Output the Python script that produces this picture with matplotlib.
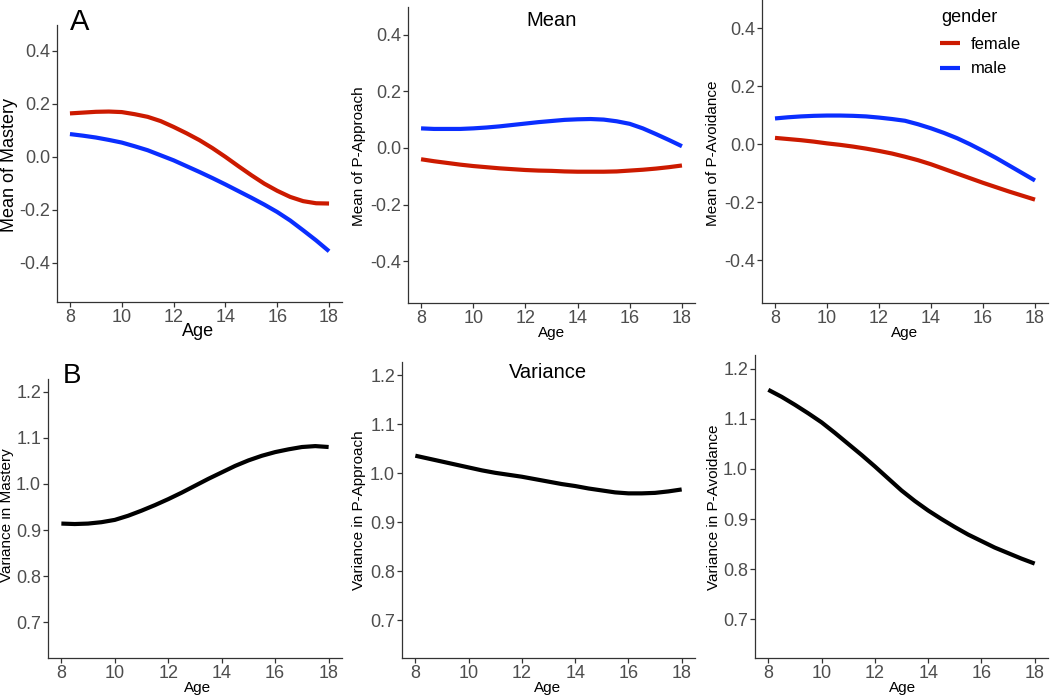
import matplotlib
matplotlib.use("Agg")
import matplotlib.pyplot as plt

plt.rcParams['font.family'] = ['Liberation Sans', 'DejaVu Sans']

# ---------------- data ----------------
ages = [8, 8.5, 9, 9.5, 10, 10.5, 11, 11.5, 12, 12.5, 13, 13.5, 14, 14.5, 15, 15.5,
        16, 16.5, 17, 17.5, 18]

mastery_female = [0.164, 0.167, 0.170, 0.171, 0.169, 0.161, 0.151, 0.135, 0.113, 0.089,
                  0.063, 0.033, 0.000, -0.035, -0.069, -0.101, -0.128, -0.151, -0.167,
                  -0.175, -0.176]
mastery_male = [0.086, 0.080, 0.073, 0.064, 0.054, 0.040, 0.025, 0.006, -0.013, -0.035,
                -0.057, -0.080, -0.104, -0.129, -0.154, -0.180, -0.208, -0.240, -0.277,
                -0.315, -0.356]
approach_female = [-0.040, -0.047, -0.053, -0.059, -0.064, -0.068, -0.072, -0.075, -0.078,
                   -0.080, -0.081, -0.083, -0.084, -0.084, -0.084, -0.083, -0.080, -0.077,
                   -0.073, -0.068, -0.062]
approach_male = [0.069, 0.067, 0.067, 0.067, 0.069, 0.072, 0.076, 0.081, 0.086, 0.091,
                 0.095, 0.099, 0.101, 0.102, 0.100, 0.094, 0.085, 0.069, 0.049, 0.028,
                 0.006]
avoid_female = [0.022, 0.018, 0.014, 0.009, 0.003, -0.002, -0.008, -0.015, -0.023, -0.032,
                -0.043, -0.055, -0.069, -0.085, -0.101, -0.117, -0.133, -0.148, -0.163,
                -0.177, -0.191]
avoid_male = [0.089, 0.093, 0.096, 0.098, 0.099, 0.099, 0.098, 0.096, 0.092, 0.087, 0.081,
              0.069, 0.055, 0.039, 0.021, 0.000, -0.023, -0.047, -0.073, -0.099, -0.125]

var_mastery = [0.914, 0.913, 0.914, 0.917, 0.922, 0.931, 0.942, 0.954, 0.967, 0.981, 0.996,
               1.011, 1.025, 1.039, 1.051, 1.061, 1.069, 1.075, 1.080, 1.082, 1.080]
var_approach = [1.036, 1.030, 1.024, 1.018, 1.012, 1.006, 1.001, 0.997, 0.993, 0.988, 0.983,
                0.978, 0.974, 0.969, 0.965, 0.961, 0.959, 0.959, 0.960, 0.963, 0.967]
var_avoid = [1.158, 1.144, 1.128, 1.111, 1.093, 1.072, 1.050, 1.028, 1.005, 0.981, 0.957,
             0.936, 0.917, 0.900, 0.884, 0.869, 0.856, 0.843, 0.832, 0.821, 0.811]

x_ticks = [8, 10, 12, 14, 16, 18]
mean_ticks = [-0.4, -0.2, 0.0, 0.2, 0.4]
mean_ticklabels = ["-0.4", "-0.2", "0.0", "0.2", "0.4"]
var_ticks = [0.7, 0.8, 0.9, 1.0, 1.1, 1.2]
var_ticklabels = ["0.7", "0.8", "0.9", "1.0", "1.1", "1.2"]

genders = ["female", "male"]
colors = {"female": "#CC1A00", "male": "#0A2EFF"}

# ---------------- figure ----------------
W, H = 1050, 697
fig = plt.figure(figsize=(W / 100, H / 100), dpi=100)


def add_axes_px(left, right, top, bottom):
    return fig.add_axes([left / W, 1 - bottom / H, (right - left) / W, (bottom - top) / H])


def style(ax, ylim, yticks, yticklabels):
    ax.set_xlim(7.5, 18.5)
    ax.set_ylim(*ylim)
    ax.set_xticks(x_ticks)
    ax.set_xticklabels([str(t) for t in x_ticks])
    ax.set_yticks(yticks)
    ax.set_yticklabels(yticklabels)
    for s in ["top", "right"]:
        ax.spines[s].set_visible(False)
    for s in ["left", "bottom"]:
        ax.spines[s].set_color("#333333")
        ax.spines[s].set_linewidth(0.9)
    ax.tick_params(axis="both", length=3.5, width=0.9, color="#333333",
                   labelcolor="#4D4D4D", labelsize=13, pad=1.5)


LW = 3.0
mean_ylim = (-0.5475, 0.4975)
var_ylim = (0.6225, 1.2275)

# panel positions in px: left, right, top, bottom
pos = [
    (57, 342, 25, 302),
    (408, 695, 7, 303),
    (762, 1048, 0, 303),
    (48, 342, 379, 658),
    (402, 695, 362, 658),
    (755, 1048, 355, 658),
]
axs = [add_axes_px(*p) for p in pos]

mean_data = [
    (mastery_female, mastery_male, "Mean of Mastery"),
    (approach_female, approach_male, "Mean of P-Approach"),
    (avoid_female, avoid_male, "Mean of P-Avoidance"),
]
var_data = [
    (var_mastery, "Variance in Mastery"),
    (var_approach, "Variance in P-Approach"),
    (var_avoid, "Variance in P-Avoidance"),
]

handles = []
for i, (fem, mal, lab) in enumerate(mean_data):
    ax = axs[i]
    lf, = ax.plot(ages, fem, color=colors["female"], lw=LW, solid_capstyle="butt",
                  solid_joinstyle="round", label="female")
    lm, = ax.plot(ages, mal, color=colors["male"], lw=LW, solid_capstyle="butt",
                  solid_joinstyle="round", label="male")
    if i == 2:
        handles = [lf, lm]
    style(ax, mean_ylim, mean_ticks, mean_ticklabels)

for i, (vals, lab) in enumerate(var_data):
    ax = axs[3 + i]
    ax.plot(ages, vals, color="black", lw=LW, solid_capstyle="butt", solid_joinstyle="round")
    style(ax, var_ylim, var_ticks, var_ticklabels)

# y labels (right edge px, center y px, fontsize)
ylab_info = [
    ("Mean of Mastery", 18, 165, 13),
    ("Mean of P-Approach", 366, 156, 11),
    ("Mean of P-Avoidance", 720, 153, 11),
    ("Variance in Mastery", 14, 515, 11),
    ("Variance in P-Approach", 366, 510, 11),
    ("Variance in P-Avoidance", 721, 507, 11),
]
for ax, (txt, xr, yc, fs) in zip(axs, ylab_info):
    ax.set_ylabel(txt, fontsize=fs, color="black")
    ax.yaxis.set_label_coords(xr / W, 1 - yc / H, transform=fig.transFigure)

# x labels
xlab_info = [
    (198, 331, 13),
    (552, 333, 11),
    (905, 333, 11),
    (198, 688, 11),
    (548, 688, 11),
    (903, 688, 11),
]
for ax, (xc, yc, fs) in zip(axs, xlab_info):
    ax.set_xlabel("")
    fig.text(xc / W, 1 - yc / H, "Age", fontsize=fs, ha="center", va="center", color="black")

# titles
fig.text(552 / W, 1 - 20 / H, "Mean", fontsize=14.5, ha="center", va="center")
fig.text(548 / W, 1 - 373 / H, "Variance", fontsize=14.5, ha="center", va="center")

# tags
fig.text(80 / W, 1 - 22.5 / H, "A", fontsize=21, ha="center", va="center")
fig.text(72 / W, 1 - 376 / H, "B", fontsize=20, ha="center", va="center")

# legend
fig.text(941 / W, 1 - 17 / H, "gender", fontsize=13, ha="left", va="center")
leg = axs[2].legend(handles=handles, labels=genders,
                    loc="upper left", bbox_to_anchor=(940 / W, 1 - 37 / H),
                    bbox_transform=fig.transFigure, frameon=False,
                    fontsize=12, handlelength=1.2,
                    handletextpad=0.65, labelspacing=0.56, borderpad=0,
                    borderaxespad=0)

fig.savefig("out.png", dpi=100)
